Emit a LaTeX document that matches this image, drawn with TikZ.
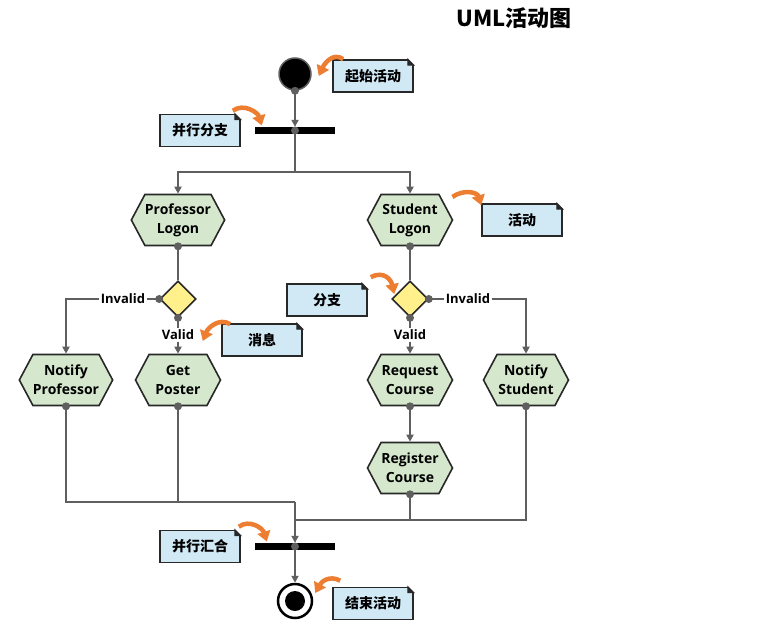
\documentclass[tikz,border=0pt]{standalone}
\usepackage{fontspec}
\setmainfont{Open Sans}
\newfontfamily\cjk{Noto Sans CJK SC}
\usetikzlibrary{shapes.geometric,shapes.symbols,arrows.meta,calc}

\definecolor{actfill}{RGB}{213,232,205}
\definecolor{decfill}{RGB}{255,240,140}
\definecolor{notefill}{RGB}{209,233,245}
\definecolor{wiregray}{RGB}{95,95,95}
\definecolor{edgedark}{RGB}{40,40,40}
\definecolor{hintorange}{RGB}{237,125,49}

\tikzset{
  activity/.style={signal, signal to=west and east, signal pointer angle=124,
    draw=edgedark, line width=1.6, fill=actfill, minimum width=85, minimum height=51,
    inner sep=0, align=center, font=\bfseries\fontsize{14}{19}\selectfont},
  decision/.style={diamond, draw=edgedark, line width=1.6, fill=decfill,
    minimum width=36, minimum height=36, inner sep=0},
  bar/.style={rectangle, fill=black, minimum width=80, minimum height=7, inner sep=0},
  note/.style={rectangle, draw=edgedark, line width=1.6, fill=notefill,
    minimum width=80, minimum height=32, inner sep=0, font=\cjk\bfseries\fontsize{14}{16}\selectfont},
  guard/.style={inner sep=1.5, font=\bfseries\fontsize{13}{15}\selectfont},
  wire/.style={draw=wiregray, line width=2},
  flow/.style={wire, -{Triangle[length=7pt,width=7pt]}},
  hint/.style={draw=hintorange, line width=4.5, -{Triangle[length=10pt,width=13pt]}}
}

\begin{document}
\begin{tikzpicture}[x=1pt,y=-1pt]
\useasboundingbox (0,0) rectangle (765,626);
\node[font=\cjk\bfseries\fontsize{22}{24}\selectfont] (title) at (514,18) {UML活动图};

% activities
\node[circle, fill=black, draw=wiregray, line width=1.5, minimum size=32, inner sep=0] (start) at (295,74) {};
\node[bar] (fork) at (295,130.5) {};
\node[activity] (plogon) at (178,220) {Professor\\Logon};
\node[activity] (slogon) at (410,220) {Student\\Logon};
\node[decision] (pdec) at (178,299) {};
\node[decision] (sdec) at (410,299) {};
\node[guard] (pinv) at (123,299) {Invalid};
\node[guard] (pval) at (178,335) {Valid};
\node[guard] (sinv) at (468,299) {Invalid};
\node[guard] (sval) at (410,335) {Valid};
\node[activity] (nprof) at (66,380) {Notify\\Professor};
\node[activity] (poster) at (178,380) {Get\\Poster};
\node[activity] (request) at (410,380) {Request\\Course};
\node[activity] (nstud) at (526,380) {Notify\\Student};
\node[activity] (register) at (410,468) {Register\\Course};
\node[bar] (join) at (295,546.5) {};
\node[circle, fill=white, draw=black, line width=2.5, minimum size=34, inner sep=0] (final) at (295,601) {};
\fill (final.center) circle (10);

% notes
\node[note] (nstart) at (373,76) {起始活动};
\node[note] (nfork) at (200,130.5) {并行分支};
\node[note] (nact) at (522,220) {活动};
\node[note] (nbranch) at (327,300) {分支};
\node[note] (nmsg) at (262,340) {消息};
\node[note] (njoin) at (200,546.5) {并行汇合};
\node[note] (nend) at (373,603.5) {结束活动};
\foreach \n in {nstart,nfork,nact,nbranch,nmsg,njoin,nend}{
  \fill[white] (\n.north east) -- ([xshift=-6pt]\n.north east) -- ([yshift=-6pt]\n.north east) -- cycle;
  \filldraw[edgedark, line width=1] ([xshift=-6pt]\n.north east) -- ([xshift=-6pt,yshift=-6pt]\n.north east) -- ([yshift=-6pt]\n.north east) -- cycle;
}

% flows
\coordinate (split) at (295,172);
\coordinate (mergeL) at (295,502);
\coordinate (mergeR) at (295,520);
\draw[flow] (start.south) -- (fork.north);
\draw[wire] (fork.center) -- (split);
\draw[flow] (split) -| (plogon.north);
\draw[flow] (split) -| (slogon.north);
\draw[wire] (plogon.south) -- (pdec.north);
\draw[wire] (slogon.south) -- (sdec.north);
\draw[wire] (pdec.west) -- (pinv.east);
\draw[flow] (pinv.west) -| (nprof.north);
\draw[wire] (pdec.south) -- (pval.north);
\draw[flow] (pval.south) -- (poster.north);
\draw[wire] (sdec.east) -- (sinv.west);
\draw[flow] (sinv.east) -| (nstud.north);
\draw[wire] (sdec.south) -- (sval.north);
\draw[flow] (sval.south) -- (request.north);
\draw[flow] (request.south) -- (register.north);
\draw[wire] (nprof.south) |- (mergeL);
\draw[wire] (poster.south) -- (poster.south |- mergeL);
\draw[wire] (register.south) |- (mergeR);
\draw[wire] (nstud.south) |- (mergeR);
\draw[flow] (mergeL) -- (join.north);
\draw[flow] (join.center) -- (final.north);
\foreach \p in {start.south,fork.center,plogon.south,slogon.south,pdec.west,pdec.south,
  sdec.east,sdec.south,nprof.south,poster.south,request.south,register.south,nstud.south,join.center}
  \fill[wiregray] (\p) circle (4);

% hints
\draw[hint] ([shift={(11,0)}]nstart.north west) .. controls +(-10,-7) and +(6,-13) .. ([shift={(7,2)}]start.east);
\draw[hint] ([shift={(-8,-3)}]nfork.north east) .. controls +(11,-8) and +(-4,-13) .. ([shift={(7,-5)}]fork.west);
\draw[hint] ([shift={(-1,-23)}]slogon.east) .. controls +(11,-8) and +(-4,-13) .. ([shift={(0,2)}]nact.north west);
\draw[hint] ([shift={(3,-6)}]nbranch.north east) .. controls +(13,-7) and +(-3,-14) .. ([shift={(3,-5)}]sdec.west);
\draw[hint] ([shift={(9,1)}]nmsg.north west) .. controls +(-11,-7) and +(5,-13) .. ([shift={(7,6)}]pval.east);
\draw[hint] ([shift={(-2,-3)}]njoin.north east) .. controls +(11,-8) and +(-4,-13) .. ([shift={(12,-5)}]join.west);
\draw[hint] ([shift={(8,-6)}]nend.north west) .. controls +(-11,-6) and +(6,-11) .. ([shift={(2,-8)}]final.east);
\end{tikzpicture}
\end{document}
